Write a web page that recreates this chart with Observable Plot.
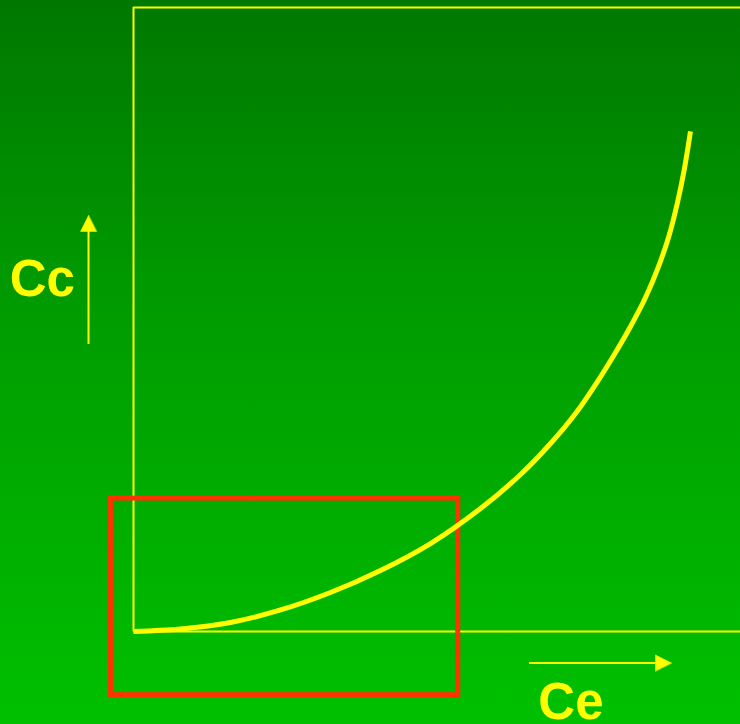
<!DOCTYPE html>
<html>
<head>
<meta charset="utf-8">
<script src="https://cdn.jsdelivr.net/npm/d3@7"></script>
<script src="https://cdn.jsdelivr.net/npm/@observablehq/plot@0.6"></script>
<style>
  html, body { margin: 0; padding: 0; background: #00a000; }
  #chart { width: 740px; height: 724px; overflow: hidden; }
</style>
</head>
<body>
<div id="chart"></div>
<script>
// Curve (Ce on x, Cc on y), in arbitrary units 0..100
const curveCe = [0, 7.74, 15.98, 24.22, 32.45, 40.69, 48.93, 57.17, 63.76, 68.70, 72.82, 76.44, 79.41, 81.88, 84.35, 86.49, 88.14, 89.62, 90.77, 91.76];
const curveCc = [0, 0.40, 1.44, 3.45, 6.25, 9.78, 14.10, 19.71, 25.16, 30.13, 34.94, 40.06, 44.71, 48.88, 53.53, 58.49, 63.14, 68.75, 74.20, 80.13];

// Frame extents
const frameX = [0, 100];
const frameY = [0, 100];

// Highlight box
const boxX = [-3.7, 53.5];
const boxY = [-10.2, 21.3];

// Axis arrows (stem ends and tip)
const ccArrow = {x: -7.41, y1: 46.0, y2: 64.1, tipY: 66.67};
const ceArrow = {y: -5.05, x1: 65.24, x2: 86.1, tipX: 88.63};

// Labels
const labels = ["Cc", "Ce"];
const labelX = [-20.4, 66.7];
const labelY = [53.8, -14.1];

const curve = curveCe.map((x, i) => ({x, y: curveCc[i]}));
const labelData = labels.map((t, i) => ({t, x: labelX[i], y: labelY[i]}));

const yellow = "#ffff00";

// filled triangular arrowhead for Plot.vector (points "up" before rotation)
const headShape = {
  draw(context, l) {
    const w = l / 2;
    context.moveTo(0, -l);
    context.lineTo(-w, 0);
    context.lineTo(w, 0);
    context.closePath();
  }
};

const chart = Plot.plot({
  width: 740,
  height: 724,
  marginLeft: 133,
  marginRight: 0,
  marginTop: 7,
  marginBottom: 93,
  x: {domain: frameX, axis: null},
  y: {domain: frameY, axis: null},
  style: {
    background: "linear-gradient(to bottom, #007800 0%, #009a00 40%, #00c000 100%)",
    overflow: "visible"
  },
  marks: [
    // frame
    Plot.ruleX([frameX[0]], {y1: frameY[0], y2: frameY[1], stroke: yellow, strokeWidth: 2}),
    Plot.ruleY(frameY, {x1: frameX[0], x2: frameX[1], stroke: yellow, strokeWidth: 2}),
    // red highlight box
    Plot.rect([{x1: boxX[0], x2: boxX[1], y1: boxY[0], y2: boxY[1]}], {
      x1: "x1", x2: "x2", y1: "y1", y2: "y2",
      fill: "none", stroke: "#ff3300", strokeWidth: 5
    }),
    // curve
    Plot.line(curve, {x: "x", y: "y", curve: "catmull-rom", stroke: yellow, strokeWidth: 5, strokeLinecap: "butt"}),
    // Cc arrow
    Plot.ruleX([ccArrow.x], {y1: ccArrow.y1, y2: ccArrow.y2, stroke: yellow, strokeWidth: 2}),
    Plot.vector([ccArrow], {x: "x", y: "tipY", length: 16, rotate: 0, anchor: "end", shape: headShape, fill: yellow, stroke: yellow, strokeWidth: 0.5}),
    // Ce arrow
    Plot.ruleY([ceArrow.y], {x1: ceArrow.x1, x2: ceArrow.x2, stroke: yellow, strokeWidth: 2}),
    Plot.vector([ceArrow], {x: "tipX", y: "y", length: 16, rotate: 90, anchor: "end", shape: headShape, fill: yellow, stroke: yellow, strokeWidth: 0.5}),
    // labels
    Plot.text(labelData, {
      x: "x", y: "y", text: "t",
      textAnchor: "start", lineAnchor: "bottom",
      fontSize: 51, fontWeight: "bold",
      fontFamily: "Liberation Sans, Arial, sans-serif",
      fill: yellow
    })
  ]
});
document.getElementById("chart").appendChild(chart);
</script>
</body>
</html>
